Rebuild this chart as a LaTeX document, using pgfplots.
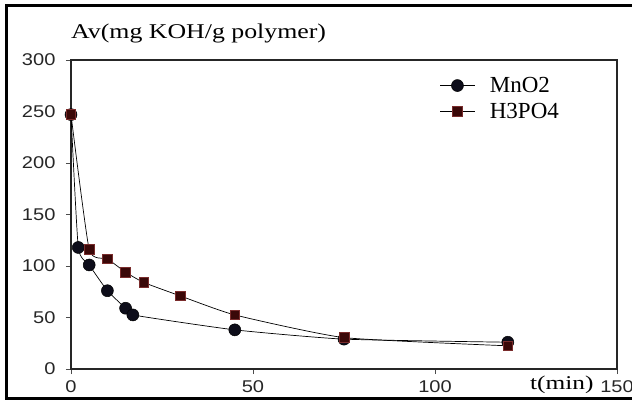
\documentclass[border=0pt]{standalone}
\usepackage{pgfplots}
\pgfplotsset{compat=1.18}
\usepackage{fontspec}
\setmainfont{Liberation Serif}
\setsansfont{Liberation Sans}
\newfontfamily\titlefont{Liberation Serif}[FakeStretch=1.23]
\newfontfamily\xlabfont{Liberation Serif}[FakeStretch=1.3]
\newfontfamily\tickfont{Liberation Sans}[FakeStretch=1.18]
\definecolor{sqfill}{HTML}{3A0808}
\definecolor{sqdraw}{HTML}{7A2C2C}
\definecolor{cfill}{HTML}{0D0D1A}
\begin{document}
\begin{tikzpicture}
\begin{axis}[
  name=ax,
  scale only axis, width=546pt, height=309pt,
  xmin=0, xmax=150, ymin=0, ymax=300,
  xtick={0,50,100,150}, ytick={0,50,...,300},
  tick align=outside, tick pos=left, major tick length=5pt,
  axis line style={line width=1.3pt, black!85},
  tick style={line width=0.8pt, black!70},
  tick label style={font=\tickfont\fontsize{17}{17}\selectfont, text=black!85},
  yticklabel style={xshift=-7pt},
  xticklabel style={yshift=-3pt},
  /pgf/number format/assume math mode=true,
  clip=false,
  legend style={at={(0.67,0.958)}, anchor=north west, draw=none, fill=none,
    font=\fontsize{23}{25}\selectfont, row sep=5pt, column sep=13pt},
  legend cell align=left,
  legend image code/.code={\draw[mark repeat=2,mark phase=2] plot coordinates {(0cm,0cm)(0.6cm,0cm)(1.2cm,0cm)};},
]
\addplot[black, line width=0.7pt, smooth, tension=0.3, mark=*, mark size=6pt,
  mark options={fill=cfill, draw=black, line width=0.5pt}]
  coordinates {(0,247)(2,118)(5,101)(10,76)(15,59)(17,52.5)(45,38)(75,29)(120,26)};
\addlegendentry{MnO2}
\addplot[black, line width=0.7pt, smooth, tension=0.3, mark=square*, mark size=4.8pt,
  mark options={fill=sqfill, draw=sqdraw, line width=0.6pt}]
  coordinates {(0,247)(5,116)(10,107)(15,94)(20,84)(30,71)(45,52.5)(75,30.5)(120,22.5)};
\addlegendentry{H3PO4}
\node[anchor=west, inner sep=0pt, font=\titlefont\fontsize{21}{21}\selectfont] at (rel axis cs:0,1.087) {Av(mg KOH/g polymer)};
\node[inner sep=0pt, font=\xlabfont\fontsize{19.5}{20}\selectfont] at (rel axis cs:0.899,-0.052) {t(min)};
\end{axis}
\draw[line width=3pt] ([shift={(-64.5pt,-29pt)}]ax.south west) rectangle ([shift={(575pt,363.5pt)}]ax.south west);
\pgfresetboundingbox
\path[use as bounding box] ([shift={(-71pt,-36pt)}]ax.south west) rectangle ([shift={(561pt,369pt)}]ax.south west);
\end{tikzpicture}
\end{document}
